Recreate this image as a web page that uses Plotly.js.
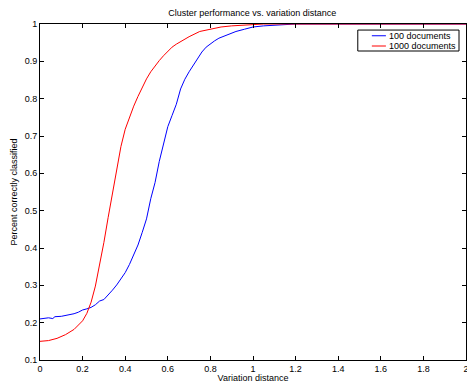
<!DOCTYPE html>
<html>
<head>
<meta charset="utf-8">
<script src="https://cdn.plot.ly/plotly-3.0.1.min.js"></script>
<style>html,body{margin:0;padding:0;background:#fff;}#chart{width:467px;height:383px;}</style>
</head>
<body>
<div id="chart"></div>
<script>
const seriesNames = ["100 documents", "1000 documents"];
const seriesColors = ["#0000ff", "#ff0000"];

const xBlue = [0, 0.02, 0.04, 0.06, 0.07, 0.10, 0.12, 0.14, 0.16, 0.18, 0.20, 0.22, 0.24, 0.26, 0.28, 0.30, 0.32, 0.34, 0.36, 0.38, 0.40, 0.42, 0.44, 0.46, 0.48, 0.50, 0.52, 0.54, 0.56, 0.58, 0.60, 0.62, 0.64, 0.66, 0.68, 0.70, 0.72, 0.74, 0.76, 0.78, 0.80, 0.82, 0.84, 0.88, 0.92, 0.96, 1.00, 1.05, 1.10, 1.15, 1.20, 1.40, 1.60, 1.80, 2.00];
const yBlue = [0.210, 0.212, 0.213, 0.211, 0.216, 0.217, 0.219, 0.221, 0.224, 0.228, 0.234, 0.237, 0.241, 0.248, 0.258, 0.262, 0.274, 0.287, 0.301, 0.316, 0.334, 0.356, 0.382, 0.408, 0.442, 0.478, 0.532, 0.575, 0.632, 0.680, 0.725, 0.755, 0.785, 0.826, 0.852, 0.872, 0.889, 0.908, 0.925, 0.938, 0.947, 0.955, 0.962, 0.972, 0.980, 0.986, 0.992, 0.995, 0.997, 0.999, 1.0, 1.0, 1.0, 1.0, 1.0];

const xRed = [0, 0.04, 0.08, 0.12, 0.16, 0.20, 0.22, 0.24, 0.26, 0.28, 0.30, 0.32, 0.34, 0.36, 0.38, 0.40, 0.42, 0.44, 0.46, 0.48, 0.50, 0.52, 0.54, 0.56, 0.58, 0.60, 0.62, 0.64, 0.66, 0.70, 0.75, 0.80, 0.85, 0.90, 0.95, 1.00, 1.05, 1.20, 1.40, 1.60, 1.80, 2.00];
const yRed = [0.150, 0.152, 0.158, 0.168, 0.182, 0.205, 0.225, 0.255, 0.298, 0.352, 0.415, 0.482, 0.545, 0.605, 0.672, 0.718, 0.750, 0.780, 0.806, 0.830, 0.853, 0.872, 0.888, 0.902, 0.915, 0.926, 0.938, 0.946, 0.953, 0.966, 0.980, 0.987, 0.992, 0.995, 0.997, 0.999, 1.0, 1.0, 1.0, 1.0, 1.0, 1.0];

const titleText = "Cluster performance vs. variation distance";
const xTitle = "Variation distance";
const yTitle = "Percent correctly classified";

const font = "Liberation Sans, Arial, Helvetica, sans-serif";

const data = [
  {x: xBlue, y: yBlue, name: seriesNames[0], type: "scatter", mode: "lines", line: {color: seriesColors[0], width: 1}},
  {x: xRed, y: yRed, name: seriesNames[1], type: "scatter", mode: "lines", line: {color: seriesColors[1], width: 1}}
];

const axisCommon = {
  showgrid: false, zeroline: false, showline: true, linecolor: "#000", linewidth: 1,
  mirror: "ticks", ticks: "inside", ticklen: 4, tickcolor: "#000", tickwidth: 1,
  ticklabeloverflow: "allow",
  tickfont: {family: font, size: 9, color: "#000"}
};

// compact legend box (paper coordinates)
const legendBox = {x0: 0.746, x1: 0.9836, y0: 0.9196, y1: 0.982};
const legendRows = [0.965, 0.9345];
const shapes = [
  {type: "rect", xref: "paper", yref: "paper", x0: legendBox.x0, x1: legendBox.x1, y0: legendBox.y0, y1: legendBox.y1,
   line: {color: "#000", width: 1}, fillcolor: "#fff", layer: "above"}
];
const annotations = [];
seriesNames.forEach((n, i) => {
  shapes.push({type: "line", xref: "paper", yref: "paper", x0: 0.779, x1: 0.812, y0: legendRows[i], y1: legendRows[i],
    line: {color: seriesColors[i], width: 1}, layer: "above"});
  annotations.push({xref: "paper", yref: "paper", x: 0.815, y: legendRows[i], xanchor: "left", yanchor: "middle",
    text: n, showarrow: false, font: {family: font, size: 9, color: "#000"}});
});

const layout = {
  width: 467, height: 383,
  margin: {l: 40, r: 1, t: 24, b: 23, pad: 0},
  paper_bgcolor: "#fff", plot_bgcolor: "#fff",
  font: {family: font, size: 9, color: "#000"},
  title: {text: titleText, font: {family: font, size: 9, color: "#000"}, x: 0.54, xanchor: "center", y: 0.975, yanchor: "top"},
  xaxis: Object.assign({}, axisCommon, {range: [0, 2], dtick: 0.2, tick0: 0,
    title: {text: xTitle, font: {family: font, size: 9, color: "#000"}, standoff: 1}}),
  yaxis: Object.assign({}, axisCommon, {range: [0.1, 1], dtick: 0.1, tick0: 0.1,
    title: {text: yTitle, font: {family: font, size: 9, color: "#000"}, standoff: 5}}),
  showlegend: false,
  shapes: shapes,
  annotations: annotations
};

Plotly.newPlot("chart", data, layout, {displayModeBar: false, staticPlot: true});
</script>
</body>
</html>
